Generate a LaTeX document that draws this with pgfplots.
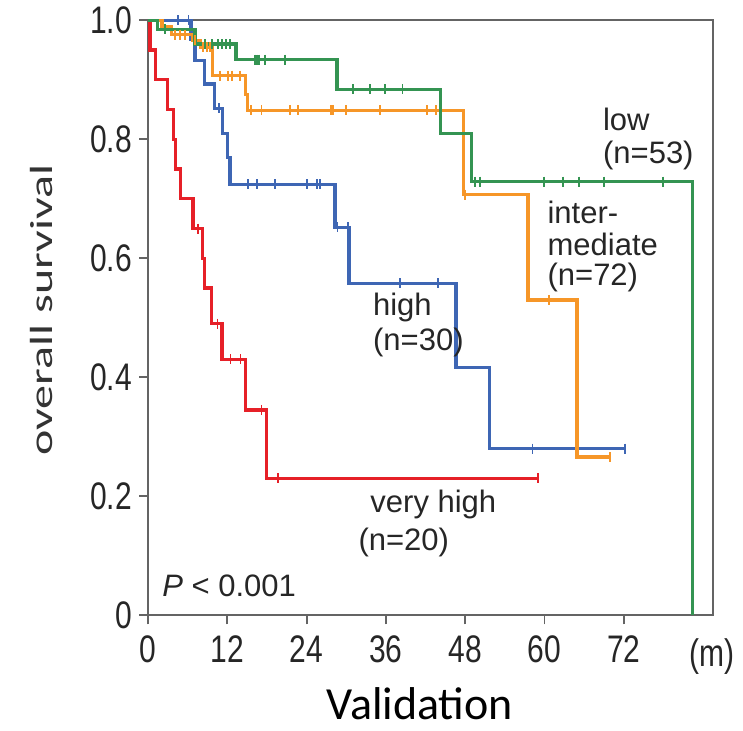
\documentclass[border=0pt]{standalone}
\usepackage{fontspec}
\setmainfont{Liberation Sans}
\newfontfamily\calibri{Carlito}
\usepackage{graphicx}
\usepackage{pgfplots}
\pgfplotsset{compat=1.18}
\definecolor{kmred}{RGB}{230,32,40}
\definecolor{kmblue}{RGB}{62,102,180}
\definecolor{kmorange}{RGB}{246,150,40}
\definecolor{kmgreen}{RGB}{52,148,82}
\definecolor{axgray}{RGB}{100,100,100}
\newcommand{\tl}[1]{\scalebox{1}[1.28]{#1}}
\begin{document}
\begin{tikzpicture}
\begin{axis}[
  width=282.5pt, height=297.5pt, scale only axis,
  xmin=0, xmax=85.5, ymin=0, ymax=1,
  clip=false,
  axis line style={axgray, line width=0.9pt},
  tick style={axgray, line width=0.9pt},
  tick align=outside, major tick length=4.5pt,
  xtick pos=left, ytick pos=left,
  xtick={0,12,24,36,48,60,72},
  xticklabels={\tl{0},\tl{12},\tl{24},\tl{36},\tl{48},\tl{60},\tl{72}},
  ytick={0,0.2,0.4,0.6,0.8,1.0},
  yticklabels={\tl{0},\tl{0.2},\tl{0.4},\tl{0.6},\tl{0.8},\tl{1.0}},
  tick label style={font=\fontsize{15}{15}\selectfont, text=black!85},
  xticklabel style={yshift=-2pt},
  ylabel={\calibri\fontsize{16}{16}\selectfont\scalebox{1.5}[1]{overall survival}},
  ylabel style={at={(rel axis cs:-0.188,0.513)}, anchor=center, text=black!80},
  xlabel={\calibri\fontsize{23}{23}\selectfont Validation},
  xlabel style={at={(rel axis cs:0.481,-0.149)}, anchor=center},
]
% invisible bounding path
\path (rel axis cs:-0.262,-0.193) rectangle (rel axis cs:1.053,1.030);

% very high (red)
\addplot[kmred, line width=1.6pt, const plot] coordinates {
(0,1) (0.3,0.95) (1.1,0.90) (3.0,0.85) (3.8,0.80) (4.1,0.75) (4.9,0.70) (6.8,0.65) (8.2,0.60) (8.5,0.55) (9.6,0.49) (11.2,0.43) (14.7,0.345) (17.9,0.23) (59.0,0.23)};
\addplot[kmred, only marks, mark=|, mark size=2.5pt, mark options={line width=0.8pt}] coordinates {
(7.6,0.65) (10.5,0.49) (12.5,0.43) (14.0,0.43) (17.2,0.345) (19.7,0.23) (59.0,0.23)};

% high (blue)
\addplot[kmblue, line width=1.6pt, const plot] coordinates {
(0,1) (6.5,0.967) (7.1,0.933) (8.6,0.893) (10.1,0.852) (11.3,0.81) (12.0,0.77) (12.4,0.724) (28.3,0.652) (30.4,0.558) (46.6,0.417) (51.7,0.28) (72.2,0.28)};
\addplot[kmblue, only marks, mark=|, mark size=2.5pt, mark options={line width=0.8pt}] coordinates {
(4.5,1) (6.1,1) (10.7,0.852) (15.1,0.724) (16.5,0.724) (19.2,0.724) (24.1,0.724) (25.6,0.724) (26.0,0.724) (28.7,0.652) (30.3,0.652) (38.1,0.558) (43.9,0.558) (58.2,0.28) (72.2,0.28)};

% intermediate (orange)
\addplot[kmorange, line width=1.6pt, const plot] coordinates {
(0,1) (2.1,0.99) (3.6,0.976) (6.7,0.966) (7.9,0.955) (9.8,0.907) (14.8,0.875) (15.1,0.849) (47.7,0.707) (57.5,0.53) (64.9,0.266) (69.9,0.266)};
\addplot[kmorange, only marks, mark=|, mark size=2.5pt, mark options={line width=0.8pt}] coordinates {
(4.1,0.976) (4.8,0.976) (5.6,0.976) (7.1,0.966) (8.3,0.955) (8.9,0.955) (9.4,0.955) (10.9,0.907) (12.1,0.907) (12.7,0.907) (13.9,0.907) (15.6,0.849) (17.2,0.849) (21.5,0.849) (22.7,0.849) (27.7,0.849) (28.0,0.849) (30.0,0.849) (35.1,0.849) (42.2,0.849) (43.6,0.849) (48.0,0.707) (60.7,0.53) (69.9,0.266)};

% low (green)
\addplot[kmgreen, line width=1.6pt, const plot] coordinates {
(0,1) (1.4,0.985) (7.1,0.96) (13.3,0.934) (28.6,0.884) (44.2,0.81) (48.9,0.729) (82.4,0)};
\addplot[kmgreen, only marks, mark=|, mark size=2.5pt, mark options={line width=0.8pt}] coordinates {
(2.6,0.985) (8.6,0.96) (9.7,0.96) (10.6,0.96) (11.2,0.96) (11.8,0.96) (12.4,0.96) (16.2,0.934) (16.5,0.934) (16.8,0.934) (17.7,0.934) (20.7,0.934) (31.0,0.884) (33.6,0.884) (35.9,0.884) (38.5,0.884) (49.5,0.729) (50.2,0.729) (59.9,0.729) (62.8,0.729) (65.2,0.729) (69.0,0.729) (77.9,0.729)};

% labels
\begin{scope}[every node/.style={font=\fontsize{15.5}{16}\selectfont, text=black!85, inner sep=0pt}]
\node[anchor=west] at (axis cs:68.8,0.834) {low};
\node[anchor=west] at (axis cs:68.8,0.773) {(n=53)};
\node[anchor=west] at (axis cs:60.4,0.677) {inter-};
\node[anchor=west] at (axis cs:60.4,0.624) {mediate};
\node[anchor=west] at (axis cs:60.4,0.568) {(n=72)};
\node[anchor=west] at (axis cs:34.0,0.518) {high};
\node[anchor=west] at (axis cs:34.0,0.459) {(n=30)};
\node[anchor=west] at (axis cs:33.6,0.187) {very high};
\node[anchor=west] at (axis cs:31.8,0.123) {(n=20)};
\node[anchor=west] at (axis cs:2.1,0.05) {\textit{P} < 0.001};
\end{scope}
\node[font=\fontsize{15}{15}\selectfont, text=black!85] at (axis cs:85.3,-0.069) {\tl{(m)}};
\end{axis}
\end{tikzpicture}
\end{document}
